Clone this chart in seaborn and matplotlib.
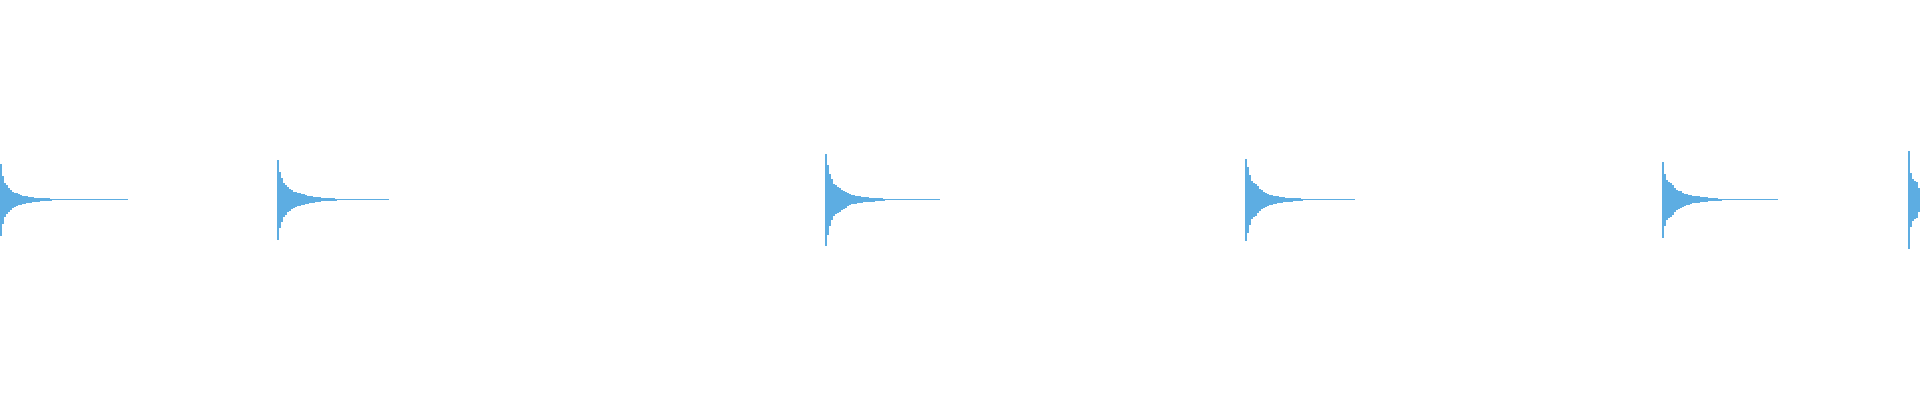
import numpy as np
import seaborn as sns
import matplotlib.pyplot as plt

# waveform peaks
# onset column of each hit, and how far its quiet tail runs
onsets = [0, 277, 825, 1245, 1662, 1908]
tail_len = [128, 112, 115, 110, 116, 12]
tail_amp = [0.5, 0.5, 0.5, 0.5, 0.5, 0.0]

# peak amplitude per 2-column step, first 60 columns of each hit
hit_1 = [36, 24, 17, 14.5, 12, 10, 8, 7, 6.5, 5.5, 5, 4, 4, 3.2, 3, 3, 2.5, 2,
         2, 2, 1.8, 1.4, 1.3, 1.3, 1.2, 1.0, 0.9, 0.9, 0.8, 0.8]
hit_2 = [40, 28, 22, 17, 15, 12.5, 11, 9.5, 8, 7.5, 6.5, 6.5, 5.5, 5.5, 4.5, 4,
         3.5, 3.5, 3, 2.5, 2.5, 2.5, 1.8, 1.5, 1.5, 1.5, 1.4, 1.3, 1.2, 1.0]
hit_3 = [46, 35, 26, 20.5, 16, 14.5, 13, 12, 10, 9, 8, 6.5, 5.5, 4.5, 4.5, 4,
         3.5, 3.5, 3, 2.7, 2.6, 2.2, 2, 2, 2, 1.8, 1.3, 1.2, 1.2, 1.0]
hit_4 = [41, 33, 25, 19, 17, 16, 13.5, 11, 9.5, 8, 7, 6, 5, 5, 4, 4, 3.5, 3, 3,
         2.5, 2, 2, 2, 2, 1.2, 1.2, 1.2, 1.2, 1.0, 0.8]
hit_5 = [38, 26, 20, 18, 17, 15, 12, 10, 9, 8.5, 7, 6, 5.5, 5, 4.5, 3.5, 3.5,
         3.5, 3.5, 2.2, 2.2, 2.2, 2.2, 1.5, 1.5, 1.5, 1.5, 1.5, 1.0, 1.0]
hit_6 = [49, 27, 21, 19, 18, 12]

hits = [hit_1, hit_2, hit_3, hit_4, hit_5, hit_6]
step = 2
color = "#5DADE2"

sns.set_style("white")
fig = plt.figure(figsize=(19.2, 4.0), dpi=100)
ax = fig.add_axes([0, 0, 1, 1])

for start, head, t_len, t_amp in zip(onsets, hits, tail_len, tail_amp):
    x = [start + step * i for i in range(len(head))]
    y = list(head)
    head_end = start + step * len(head)
    if start + t_len > head_end:
        x += [head_end, start + t_len]
        y += [t_amp, t_amp]
    else:
        x += [head_end]
        y += [head[-1]]
    y = np.array(y)
    ax.fill_between(x, -y, y, step="post", color=color, linewidth=0)

ax.set_xlim(0, 1920)
ax.set_ylim(-200.5, 199.5)
ax.axis("off")

fig.savefig("out.png", dpi=100)
